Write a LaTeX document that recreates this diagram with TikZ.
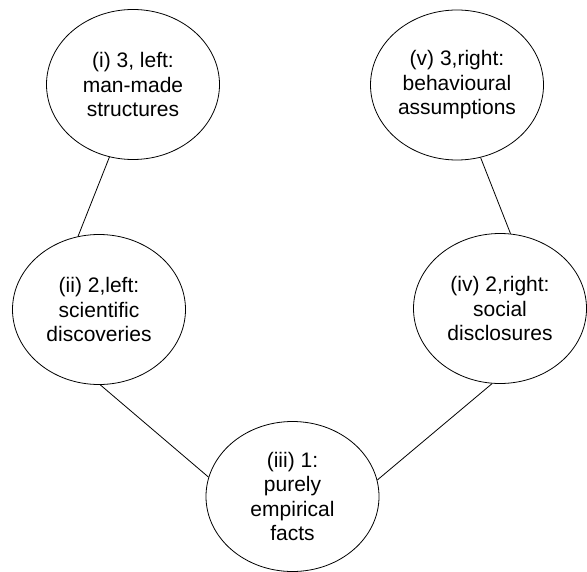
\documentclass[tikz,border=0pt]{standalone}
\usepackage{fontspec}
\setmainfont{Liberation Sans}
\usetikzlibrary{shapes.geometric}
\begin{document}
\begin{tikzpicture}[x=1bp,y=-1bp,
  stage/.style={ellipse, draw, line width=0.8bp, minimum width=173bp,
    minimum height=150bp, inner sep=0pt, align=center,
    font=\fontsize{21bp}{24.5bp}\selectfont},
  link/.style={line width=0.8bp}]
\useasboundingbox (0,0) rectangle (587,572);
% the five stages
\node[stage] (i)   at (133,84.5)  {(i) 3, left:\\man-made\\structures};
\node[stage] (v)   at (457,85)    {(v) 3,right:\\behavioural\\assumptions};
\node[stage] (ii)  at (99,309.5)  {(ii) 2,left:\\scientific\\discoveries};
\node[stage] (iv)  at (500,308.5) {(iv) 2,right:\\social\\disclosures};
\node[stage] (iii) at (292.5,496.5) {(iii) 1:\\purely\\empirical\\facts};
% links between stages
\draw[link] (i.252)   -- (ii.106);
\draw[link] (v.288)   -- (iv.82);
\draw[link] (ii.271)  -- (iii.167);
\draw[link] (iv.264)  -- (iii.11);
\end{tikzpicture}
\end{document}
